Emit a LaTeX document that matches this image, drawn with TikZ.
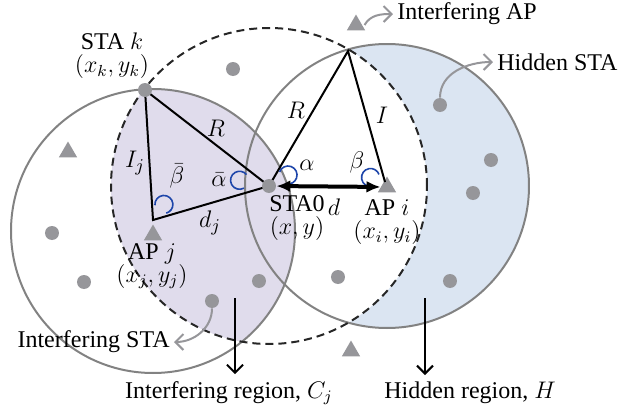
\documentclass[tikz,border=0pt]{standalone}
\usepackage{fontspec}
\setmainfont{Liberation Serif}
\usetikzlibrary{arrows.meta,shapes.geometric,calc}
\definecolor{RegionInt}{RGB}{224,220,236}
\definecolor{RegionHid}{RGB}{219,229,242}
\definecolor{NodeGray}{RGB}{150,150,154}
\definecolor{RingGray}{RGB}{130,130,130}
\definecolor{AngleBlue}{RGB}{30,70,170}
\newcommand{\angmark}[3]{\draw[angarc] ($(#1)+(#2:#3)+(#2+130:9)$) arc[start angle=#2+130, end angle=#2-130, radius=9];}

\begin{document}
\begin{tikzpicture}[x=0.5pt, y=0.5pt, font=\fontsize{12}{11.5}\selectfont,
        sta/.style={circle, fill=NodeGray, inner sep=0, minimum size=7pt},
        ap/.style={regular polygon, regular polygon sides=3, fill=NodeGray, inner sep=0, minimum size=10.5pt},
        rng/.style={draw=RingGray, line width=1pt},
        edge/.style={line width=1pt},
        angarc/.style={draw=AngleBlue, line width=0.8pt},
        sym/.style={inner sep=1pt, font=\fontsize{13}{13}\selectfont},
        note/.style={draw=NodeGray, line width=1pt, -{Straight Barb[length=4pt, width=8pt]}},
        tag/.style={inner sep=2pt},
        down/.style={line width=1pt, -{Straight Barb[length=4pt, width=8pt]}}
]
    \useasboundingbox (0,0) rectangle (634,414);
    \coordinate (cj) at (153,183);
    \coordinate (ci) at (387,228);
    \coordinate (c0) at (269,228);
    \begin{scope}
        \clip (c0) circle[radius=158];
        \fill[RegionInt] (cj) circle[radius=142];
    \end{scope}
    \begin{scope}
        \clip (ci) circle[radius=142];
        \fill[RegionHid, even odd rule] (c0) circle[radius=158] (0,0) rectangle (634,414);
    \end{scope}
    \draw[rng] (cj) circle[radius=142];
    \draw[rng] (ci) circle[radius=142];
    \draw[line width=1pt, black!85, dash pattern=on 4pt off 2.5pt] (c0) circle[radius=158];

    \coordinate (vj) at (153,194);
    \coordinate (vt) at (348,363);
    \coordinate (vi) at (385,232);
    \node[ap] (apj) at (153,179) {};
    \node[ap] (api) at (387,227) {};
    \node[ap] (ap1) at (68,262) {};
    \node[ap] (ap2) at (356,389) {};
    \node[ap] (ap3) at (351,63) {};

    \draw[edge] (145,324) -- (c0) -- (vj) -- cycle;
    \draw[edge] (c0) -- (vt) -- (vi);
    \angmark{c0}{30}{22}
    \angmark{c0}{169}{30}
    \angmark{api}{150}{19}
    \angmark{vj}{55}{19}

    \node[sta] (stak) at (145,324) {};
    \node[sta] (sta0) at (c0) {};
    \node[sta] (s1) at (233,345) {};
    \node[sta] (s2) at (440,309) {};
    \node[sta] (s3) at (491,254) {};
    \node[sta] (s4) at (473,221) {};
    \node[sta] (s5) at (52,181) {};
    \node[sta] (s6) at (84,132) {};
    \node[sta] (s7) at (212,113) {};
    \node[sta] (s8) at (259,133) {};
    \node[sta] (s9) at (338,137) {};
    \node[sta] (s10) at (450,133) {};
    \draw[line width=2pt, {Latex[length=7pt,width=6pt]}-{Latex[length=7pt,width=6pt]}] (sta0) -- (api);

    \node[sym] (lR1) at (216,286) {$R$};
    \node[sym] (lR2) at (296,304) {$R$};
    \node[sym] (lI) at (382,299) {$I$};
    \node[sym] (lIj) at (135,251) {$I_j$};
    \node[sym] (ldj) at (210,191) {$d_j$};
    \node[sym] (ld) at (334,207) {$d$};
    \node[sym] (la) at (307,249) {$\alpha$};
    \node[sym] (lb) at (357,252) {$\beta$};
    \node[sym] (lab) at (219,234) {$\bar{\alpha}$};
    \node[sym] (lbb) at (177,238) {$\bar{\beta}$};

    \node[align=center] (stakl) at (112,358) {STA $k$\\$(x_k, y_k)$};
    \node[align=center] (sta0l) at (297,196) {STA0\\$(x, y)$};
    \node[align=center] (apjl) at (152,148) {AP $j$\\$(x_j, y_j)$};
    \node[align=center] (apil) at (387,192) {AP $i$\\$(x_i, y_i)$};

    \node[tag, anchor=west] (intap) at (393,400) {Interfering AP};
    \node[tag, anchor=west] (hidsta) at (493,352) {Hidden STA};
    \node[tag, anchor=east] (intsta) at (174,72) {Interfering STA};
    \draw[note] ([xshift=1pt]ap2.east) to[out=60, in=180] (intap.west);
    \draw[note] (s2.north) to[out=90, in=180] (hidsta.west);
    \draw[note] (s7.south) to[out=-90, in=0] (intsta.east);

    \node (cjl) at (229,21) {Interfering region, $C_j$};
    \node (hl) at (470,21) {Hidden region, $H$};
    \coordinate (cjtop) at (235,116);
    \coordinate (htop) at (425,116);
    \draw[down] (cjtop) -- (cjtop |- cjl.north);
    \draw[down] (htop) -- (htop |- hl.north);
\end{tikzpicture}
\end{document}
